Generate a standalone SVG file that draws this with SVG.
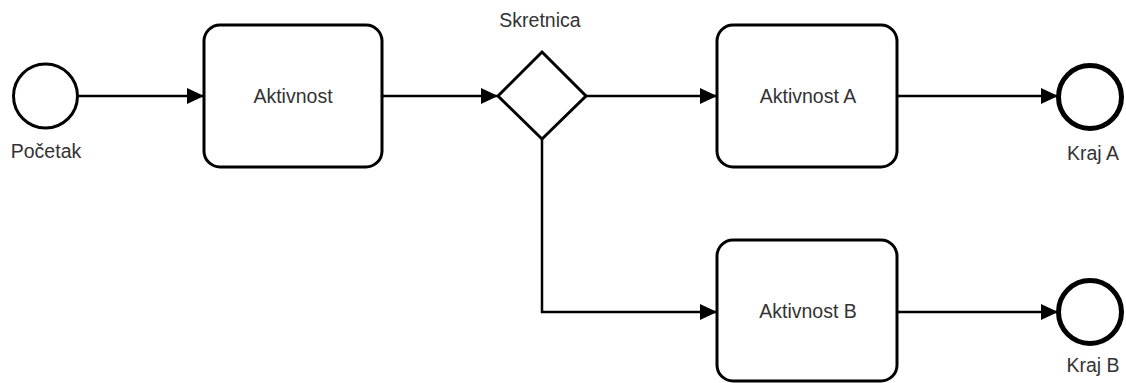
<svg xmlns="http://www.w3.org/2000/svg" width="1126" height="383" viewBox="0 0 1126 383">
  <style>
    .task { fill: #ffffff; stroke: #000000; stroke-width: 3; }
    .gateway { fill: #ffffff; stroke: #000000; stroke-width: 3; stroke-linejoin: miter; }
    .start { fill: #ffffff; stroke: #000000; stroke-width: 3; }
    .end { fill: #ffffff; stroke: #000000; stroke-width: 5; }
    .flow { fill: none; stroke: #000000; stroke-width: 2.5; }
    .label { font-family: "Liberation Sans", Arial, sans-serif; font-size: 19.5px; fill: #333333; text-anchor: middle; }
  </style>
  <defs>
    <marker id="arrow" viewBox="0 0 17 16" refX="16" refY="8" markerWidth="17" markerHeight="16" markerUnits="userSpaceOnUse" orient="auto">
      <path d="M0,0 L17,8 L0,16 Z" fill="#000000"/>
    </marker>
  </defs>

  <rect width="1126" height="383" fill="#ffffff"/>

  <!-- sequence flows -->
  <g id="connectors">
    <path class="flow" d="M78,96 H203" marker-end="url(#arrow)"/>
    <path class="flow" d="M383,96 H497" marker-end="url(#arrow)"/>
    <path class="flow" d="M586,96 H716" marker-end="url(#arrow)"/>
    <path class="flow" d="M542,139 V312 H716" marker-end="url(#arrow)"/>
    <path class="flow" d="M898,96 H1057" marker-end="url(#arrow)"/>
    <path class="flow" d="M898,312 H1057" marker-end="url(#arrow)"/>
  </g>

  <g id="start">
    <circle class="start" cx="45.5" cy="96" r="32"/>
    <text class="label" x="46" y="158">Početak</text>
  </g>

  <g id="task-aktivnost">
    <rect class="task" x="204" y="25" width="178" height="142" rx="16"/>
    <text class="label" x="293" y="103">Aktivnost</text>
  </g>

  <g id="gateway">
    <path class="gateway" d="M542,52 L586,96 L542,139 L498,96 Z"/>
    <text class="label" x="540" y="27">Skretnica</text>
  </g>

  <g id="task-a">
    <rect class="task" x="717" y="25" width="180" height="142" rx="16"/>
    <text class="label" x="808" y="103">Aktivnost A</text>
  </g>

  <g id="task-b">
    <rect class="task" x="717" y="240" width="180" height="141" rx="16"/>
    <text class="label" x="808" y="318">Aktivnost B</text>
  </g>

  <g id="end-a">
    <circle class="end" cx="1090" cy="97" r="31.5"/>
    <text class="label" x="1093" y="160">Kraj A</text>
  </g>

  <g id="end-b">
    <circle class="end" cx="1090" cy="312" r="31.5"/>
    <text class="label" x="1093" y="372">Kraj B</text>
  </g>
</svg>
